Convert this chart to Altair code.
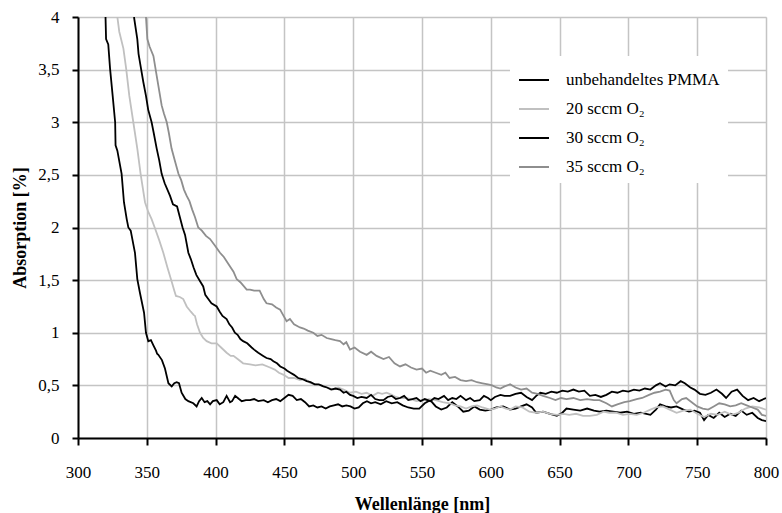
import altair as alt
import pandas as pd

# ---------------- data ----------------
series_names = ["unbehandeltes PMMA", "20 sccm O₂", "30 sccm O₂", "35 sccm O₂"]
series_colors = ["#000000", "#c0c0c0", "#000000", "#8e8e8e"]

x_ticks = [300, 350, 400, 450, 500, 550, 600, 650, 700, 750, 800]
y_ticks = [0, 0.5, 1, 1.5, 2, 2.5, 3, 3.5, 4]

pmma_wl = [320, 320.4, 322, 323.3, 325.2, 327, 327.3, 328.6, 331.7, 333.4, 335.4, 336.6, 338.3,
           341.4, 343.1, 345, 348, 349.4, 351.1, 353, 354.8, 356.7, 357.5, 358.4, 361, 363.2,
           365.7, 368.1, 370, 371.7, 373.4, 375.3, 378, 380.2, 383.8, 386.2, 388, 389.9, 392,
           394, 396, 398, 400.8, 403, 405.6, 408, 410.5, 412, 414.2, 417, 419, 422, 425, 428,
           431, 435, 438, 441, 444, 447, 450, 453, 456, 459, 462, 465, 468, 471, 474, 477, 480,
           483, 486, 489, 492, 495, 498, 501, 504, 507, 510, 513, 516, 520, 524, 528, 532, 536,
           540, 544, 548, 552, 556, 560, 564, 568, 572, 576, 580, 584, 588, 592, 596, 600, 604,
           609, 614, 618, 622, 626, 630, 633, 638, 643, 648, 652, 655, 660, 665, 670, 675, 679,
           684, 689, 694, 699, 704, 709, 713, 716, 720, 723, 727, 731, 735, 740, 744, 748, 752,
           755, 758, 762, 766, 770, 774, 778, 782, 786, 790, 794, 797, 800]
pmma_abs = [4.00, 3.79, 3.74, 3.51, 3.25, 3.00, 2.78, 2.73, 2.51, 2.24, 2.08, 2.00, 1.97,
            1.76, 1.51, 1.38, 1.19, 1.00, 0.92, 0.93, 0.88, 0.83, 0.80, 0.79, 0.74, 0.66,
            0.52, 0.49, 0.52, 0.53, 0.52, 0.43, 0.37, 0.35, 0.33, 0.30, 0.35, 0.38, 0.34,
            0.35, 0.32, 0.35, 0.36, 0.32, 0.34, 0.40, 0.34, 0.35, 0.40, 0.37, 0.35, 0.36, 0.36, 0.37,
            0.35, 0.36, 0.34, 0.36, 0.37, 0.35, 0.38, 0.41, 0.40, 0.36, 0.37, 0.34, 0.30, 0.31, 0.29, 0.30, 0.28,
            0.30, 0.31, 0.32, 0.30, 0.31, 0.30, 0.28, 0.29, 0.33, 0.35, 0.33, 0.34, 0.32, 0.35, 0.33, 0.34, 0.31,
            0.29, 0.28, 0.28, 0.33, 0.36, 0.30, 0.27, 0.29, 0.34, 0.30, 0.25, 0.26, 0.30, 0.27, 0.26, 0.27, 0.29,
            0.30, 0.27, 0.28, 0.30, 0.32, 0.29, 0.24, 0.25, 0.23, 0.21, 0.24, 0.28, 0.27, 0.26, 0.28, 0.26, 0.25,
            0.26, 0.25, 0.24, 0.25, 0.23, 0.24, 0.23, 0.22, 0.27, 0.32, 0.30, 0.29, 0.30, 0.27, 0.25, 0.26, 0.24,
            0.17, 0.22, 0.19, 0.24, 0.20, 0.23, 0.21, 0.26, 0.22, 0.24, 0.19, 0.17, 0.16]

s20_wl = [328.6, 330, 333, 335, 337.3, 340.2, 343.1, 345.5, 348.7, 351, 353.5, 356, 359, 362,
          365, 368, 370, 371.2, 374, 376.5, 379, 382, 384, 385, 386.5, 388.7, 391, 393.5, 397,
          400.8, 404, 408, 411, 413, 416, 420, 425, 429, 434, 439.5, 443, 446, 449.5, 453, 457,
          461.3, 465, 469, 473.4, 477, 481, 485.5, 489, 493, 497.7, 502, 506, 509.8, 514, 518,
          521, 524.3, 528, 531, 534, 538, 542, 546, 551, 555, 560, 565, 570, 574, 578, 582, 586,
          590, 594, 599.4, 603, 607, 611, 614, 618, 623, 628, 633, 638, 643, 648, 653, 657, 662,
          667, 672, 677, 682, 686, 691, 696, 701, 706, 711, 716, 720, 725, 730, 735, 740, 745,
          750, 755, 760, 765, 770, 775, 780, 785, 790, 795, 800]
s20_abs = [4.00, 3.86, 3.70, 3.51, 3.25, 3.00, 2.75, 2.51, 2.24, 2.15, 2.08, 1.99, 1.88, 1.76,
           1.62, 1.49, 1.40, 1.35, 1.34, 1.32, 1.25, 1.20, 1.17, 1.16, 1.08, 1.00, 0.95, 0.92, 0.90,
           0.90, 0.86, 0.81, 0.78, 0.78, 0.75, 0.71, 0.70, 0.69, 0.70, 0.67, 0.65, 0.62, 0.60, 0.57, 0.57,
           0.55, 0.56, 0.52, 0.51, 0.50, 0.48, 0.46, 0.48, 0.46, 0.43, 0.44, 0.42, 0.43, 0.40, 0.43,
           0.42, 0.43, 0.41, 0.39, 0.38, 0.38, 0.37, 0.35, 0.36, 0.37, 0.36, 0.34, 0.33, 0.31, 0.30, 0.28, 0.30,
           0.31, 0.29, 0.27, 0.28, 0.30, 0.28, 0.27, 0.30, 0.29, 0.25, 0.24, 0.25, 0.23, 0.22, 0.23, 0.22, 0.23,
           0.21, 0.21, 0.22, 0.25, 0.24, 0.24, 0.22, 0.23, 0.22, 0.24, 0.27, 0.29, 0.30, 0.27, 0.24, 0.26, 0.27,
           0.23, 0.20, 0.23, 0.22, 0.25, 0.22, 0.24, 0.28, 0.30, 0.29, 0.27]

s30_wl = [340.7, 343.1, 344, 345.8, 347.5, 349.4, 351, 353.5, 355, 357.2, 359, 360.8, 363, 366.9,
          369, 372, 374, 376, 377.8, 380.2, 382, 384, 386, 388.7, 391, 392.5, 394.7, 397, 400.8,
          403, 405, 408, 410, 412, 414, 416, 418, 420, 423, 426.2, 428, 431, 434.6, 437, 440, 442,
          444.6, 447, 450, 452, 454.4, 457, 460, 463, 466.2, 469, 472, 475, 478.3, 481, 484, 487,
          490.4, 493, 495, 497.7, 500, 503, 506, 509.8, 513, 516, 519, 522, 525, 528, 531, 534,
          537, 540, 543, 546, 549, 552, 556, 559, 562, 566, 569, 572, 575, 578, 582, 585, 588,
          592, 595, 598, 600, 603, 607, 610, 614, 618, 622, 626, 630, 633, 636, 640, 644, 648,
          652, 656, 660, 664, 668, 672, 676, 680, 684, 688, 692, 696, 700, 704, 708, 712, 716,
          720, 723, 727, 730, 734, 738, 741, 745, 748, 752, 756, 760, 764, 768, 771, 775, 779,
          783, 787, 791, 795, 800]
s30_abs = [4.00, 3.79, 3.65, 3.51, 3.38, 3.25, 3.12, 3.00, 2.90, 2.75, 2.64, 2.51, 2.42, 2.30,
           2.22, 2.20, 2.10, 2.00, 1.93, 1.76, 1.70, 1.62, 1.55, 1.49, 1.44, 1.36, 1.32, 1.28, 1.25,
           1.20, 1.16, 1.13, 1.08, 1.05, 1.00, 0.98, 0.94, 0.92, 0.90, 0.86, 0.84, 0.81, 0.78, 0.76, 0.75, 0.73,
           0.71, 0.68, 0.66, 0.64, 0.62, 0.60, 0.57, 0.56, 0.54, 0.53, 0.51, 0.51, 0.49, 0.48, 0.46, 0.47,
           0.46, 0.43, 0.44, 0.41, 0.40, 0.38, 0.39, 0.38, 0.41, 0.37, 0.36, 0.36, 0.39, 0.40, 0.37, 0.38,
           0.40, 0.36, 0.37, 0.38, 0.35, 0.37, 0.35, 0.38, 0.37, 0.40, 0.36, 0.38, 0.37, 0.40, 0.36, 0.38, 0.35,
           0.36, 0.40, 0.38, 0.36, 0.39, 0.41, 0.40, 0.40, 0.42, 0.43, 0.39, 0.36, 0.40, 0.43, 0.42, 0.44, 0.43,
           0.45, 0.44, 0.46, 0.44, 0.45, 0.40, 0.41, 0.39, 0.41, 0.44, 0.43, 0.45, 0.44, 0.46, 0.45, 0.47, 0.46,
           0.50, 0.52, 0.49, 0.51, 0.50, 0.54, 0.52, 0.48, 0.46, 0.42, 0.41, 0.43, 0.46, 0.42, 0.38, 0.44, 0.46,
           0.40, 0.36, 0.38, 0.35, 0.38]

s35_wl = [349.4, 350.4, 352, 354.8, 357.2, 359, 360.8, 362.5, 364.5, 366, 368, 370.5, 373, 375,
          377, 379, 381, 383, 385, 387.4, 390, 393, 396, 400, 403.2, 406, 408, 410.5, 413, 415.3,
          418, 420, 422.6, 425, 428, 432, 435, 437, 441, 444, 446.9, 449, 451.6, 454, 457, 461.3,
          464, 467, 471, 474, 477, 480.7, 484, 487, 490.4, 493, 495, 497.7, 501, 505, 509.8, 513,
          517, 522, 526, 530, 534, 538, 542, 546, 550, 553, 556, 560, 564, 567, 570, 574, 578, 582,
          586, 590, 594, 598, 601, 604, 607, 610, 614, 618, 622, 626, 630, 634, 638, 643, 647, 651,
          655, 660, 665, 670, 675, 679, 684, 688, 692, 697, 701, 706, 710, 715, 719, 723, 727, 730,
          733, 735, 739, 742, 746, 750, 754, 758, 762, 766, 770, 774, 778, 782, 786, 790, 794, 797, 800]
s35_abs = [4.00, 3.79, 3.72, 3.63, 3.44, 3.30, 3.16, 3.08, 3.00, 2.90, 2.75, 2.63, 2.51, 2.45,
           2.36, 2.30, 2.25, 2.17, 2.10, 2.00, 1.97, 1.92, 1.89, 1.82, 1.76, 1.72, 1.68, 1.63, 1.58, 1.51,
           1.48, 1.45, 1.41, 1.41, 1.40, 1.40, 1.32, 1.28, 1.27, 1.24, 1.22, 1.17, 1.11, 1.13, 1.08, 1.05,
           1.04, 1.02, 1.00, 0.97, 0.98, 0.95, 0.94, 0.93, 0.92, 0.89, 0.91, 0.84, 0.86, 0.82, 0.79, 0.82,
           0.78, 0.75, 0.77, 0.71, 0.68, 0.70, 0.67, 0.65, 0.66, 0.62, 0.64, 0.62, 0.60, 0.62, 0.57, 0.58, 0.55, 0.54,
           0.55, 0.53, 0.52, 0.51, 0.50, 0.48, 0.47, 0.49, 0.51, 0.48, 0.46, 0.47, 0.43, 0.42, 0.40, 0.38, 0.36, 0.38,
           0.37, 0.38, 0.36, 0.37, 0.36, 0.36, 0.33, 0.30, 0.32, 0.34, 0.35, 0.37, 0.38, 0.41, 0.43, 0.44, 0.46, 0.45,
           0.36, 0.33, 0.37, 0.38, 0.34, 0.30, 0.28, 0.27, 0.30, 0.33, 0.32, 0.30, 0.31, 0.33, 0.31, 0.29, 0.27, 0.22, 0.21]

# ---------------- table ----------------
frames = []
for i, (name, wl, ab) in enumerate([
        (series_names[0], pmma_wl, pmma_abs),
        (series_names[1], s20_wl, s20_abs),
        (series_names[2], s30_wl, s30_abs),
        (series_names[3], s35_wl, s35_abs)]):
    frames.append(pd.DataFrame({"wl": wl, "abs": ab, "series": name, "order": i}))
df = pd.concat(frames, ignore_index=True)

FONT = "Liberation Serif"

chart = alt.Chart(df).mark_line(strokeWidth=1.8, clip=True).encode(
    x=alt.X("wl:Q",
            scale=alt.Scale(domain=[300, 800], nice=False, zero=False),
            axis=alt.Axis(values=x_ticks, title="Wellenlänge [nm]", format="d",
                          grid=True, gridColor="#c4c4c4", gridWidth=1.5,
                          domainColor="#000000", domainWidth=2,
                          tickColor="#000000", tickWidth=2, tickSize=7,
                          labelFlush=False, labelOverlap=False,
                          labelFont=FONT, labelFontSize=17, labelColor="#000000",
                          labelPadding=19,
                          titleFont=FONT, titleFontSize=18, titleFontWeight="bold",
                          titleColor="#000000", titlePadding=15)),
    y=alt.Y("abs:Q",
            scale=alt.Scale(domain=[0, 4], nice=False),
            axis=alt.Axis(values=y_ticks, title="Absorption [%]",
                          labelExpr="replace(format(datum.value, '.1~f'), '.', ',')",
                          grid=True, gridColor="#c4c4c4", gridWidth=1.5,
                          domainColor="#000000", domainWidth=2,
                          tickColor="#000000", tickWidth=2, tickSize=6,
                          labelFlush=False, labelOverlap=False,
                          labelFont=FONT, labelFontSize=17, labelColor="#000000",
                          labelPadding=13,
                          titleFont=FONT, titleFontSize=18, titleFontWeight="bold",
                          titleColor="#000000", titlePadding=8)),
    color=alt.Color("series:N",
                    scale=alt.Scale(domain=series_names, range=series_colors),
                    sort=series_names,
                    legend=alt.Legend(title=None, orient="none", legendX=432, legendY=39,
                                      fillColor="#ffffff", padding=8,
                                      symbolType="stroke", symbolSize=900,
                                      symbolStrokeWidth=2, labelOffset=16,
                                      labelFont=FONT, labelFontSize=17, labelColor="#000000",
                                      rowPadding=5, labelLimit=300)),
    detail="series:N",
    order=alt.Order("order:Q"),
).properties(
    width=688, height=421,
    autosize=alt.AutoSizeParams(type="none"),
    padding={"left": 78, "top": 17, "right": 16, "bottom": 75},
).configure_view(
    stroke="#7f7f7f", strokeWidth=2
).configure(background="#ffffff")

chart.save("out.html", embed_options={"renderer": "svg", "actions": False})
